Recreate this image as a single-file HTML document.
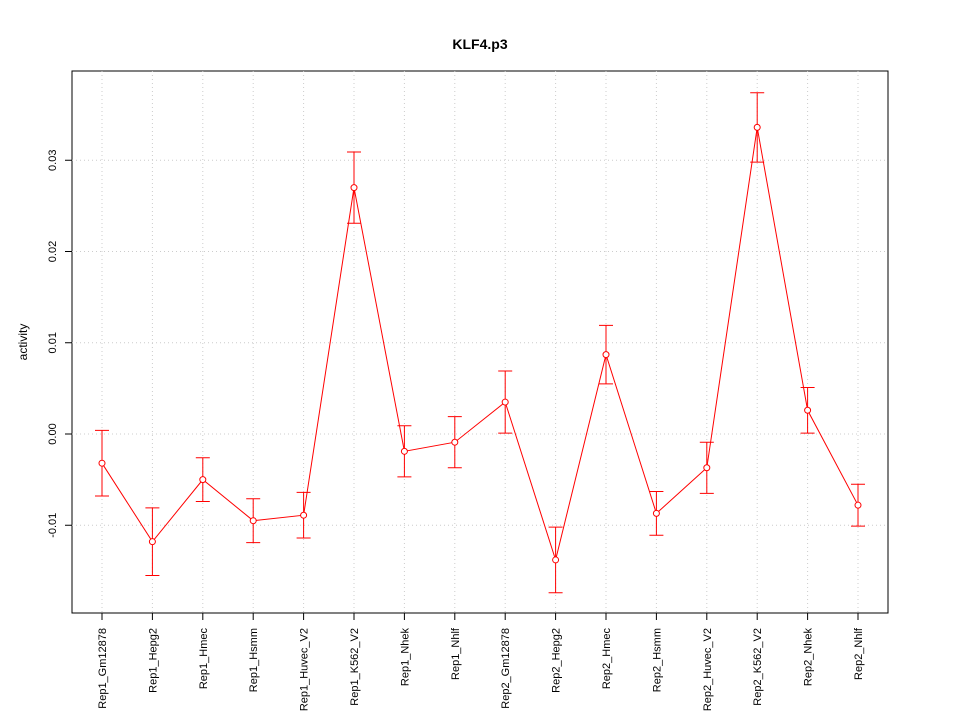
<!DOCTYPE html>
<html><head><meta charset="utf-8"><style>body{margin:0;background:#fff}svg{display:block;font-family:"Liberation Sans",sans-serif}</style></head>
<body>
<svg id="chart" width="960" height="720">
<text x="480" y="49" text-anchor="middle" font-size="14" font-weight="bold">KLF4.p3</text>
<text transform="translate(27,342) rotate(-90)" text-anchor="middle" font-size="12">activity</text>
<rect x="72" y="71" width="816" height="542" fill="none" stroke="#000"/>
<g id="grid"></g><g id="axes"></g><g id="series"></g>
</svg>
<script>
const categories=["Rep1_Gm12878","Rep1_Hepg2","Rep1_Hmec","Rep1_Hsmm","Rep1_Huvec_V2","Rep1_K562_V2","Rep1_Nhek","Rep1_Nhlf","Rep2_Gm12878","Rep2_Hepg2","Rep2_Hmec","Rep2_Hsmm","Rep2_Huvec_V2","Rep2_K562_V2","Rep2_Nhek","Rep2_Nhlf"];
const values=[-0.0032,-0.0118,-0.005,-0.0095,-0.0089,0.027,-0.0019,-0.0009,0.0035,-0.0138,0.0087,-0.0087,-0.0037,0.0336,0.0026,-0.0078];
const errors=[0.0036,0.0037,0.0024,0.0024,0.0025,0.0039,0.0028,0.0028,0.0034,0.0036,0.0032,0.0024,0.0028,0.0038,0.0025,0.0023];
const yTicks=[-0.01,0,0.01,0.02,0.03];
const yTickLabels=["-0.01","0.00","0.01","0.02","0.03"];
const NS="http://www.w3.org/2000/svg";
function xs(i){return 102+i*(756/(categories.length-1));}
function ys(v){return 434-v*9125;}
function mk(p,t,a){const e=document.createElementNS(NS,t);for(const k in a)e.setAttribute(k,a[k]);p.appendChild(e);return e;}
const grid=document.getElementById('grid'),axes=document.getElementById('axes'),ser=document.getElementById('series');
categories.forEach((c,i)=>{
 const g=mk(grid,'line',{x1:xs(i),x2:xs(i),y1:71,y2:613,stroke:'#ccc','stroke-dasharray':'1,3'});
 
 const t=mk(axes,'line',{x1:xs(i),x2:xs(i),y1:613,y2:620,stroke:'#000'});
 
 const l=mk(axes,'text',{transform:`translate(${xs(i)+4},628) rotate(-90)`,'text-anchor':'end','font-size':'11'});
 l.textContent=c;
});
yTicks.forEach((v,i)=>{
 const g=mk(grid,'line',{x1:72,x2:888,y1:ys(v),y2:ys(v),stroke:'#ccc','stroke-dasharray':'1,3'});
 
 const t=mk(axes,'line',{x1:65,x2:72,y1:ys(v),y2:ys(v),stroke:'#000'});
 
 const l=mk(axes,'text',{transform:`translate(56,${ys(v)}) rotate(-90)`,'text-anchor':'middle','font-size':'11'});
 l.textContent=yTickLabels[i];
});
const pl=mk(ser,'polyline',{points:values.map((v,i)=>xs(i)+','+ys(v)).join(' '),fill:'none',stroke:'#f00'});

values.forEach((v,i)=>{
 const x=xs(i),t=ys(v+errors[i]),b=ys(v-errors[i]);
 const e=mk(ser,'path',{d:`M${x},${t}V${b}M${x-7},${t}H${x+7}M${x-7},${b}H${x+7}`,stroke:'#f00',fill:'none'});
 
 const c=mk(ser,'circle',{cx:x,cy:ys(v),r:3,fill:'#fff',stroke:'#f00'});
 
});
</script>
</body></html>
